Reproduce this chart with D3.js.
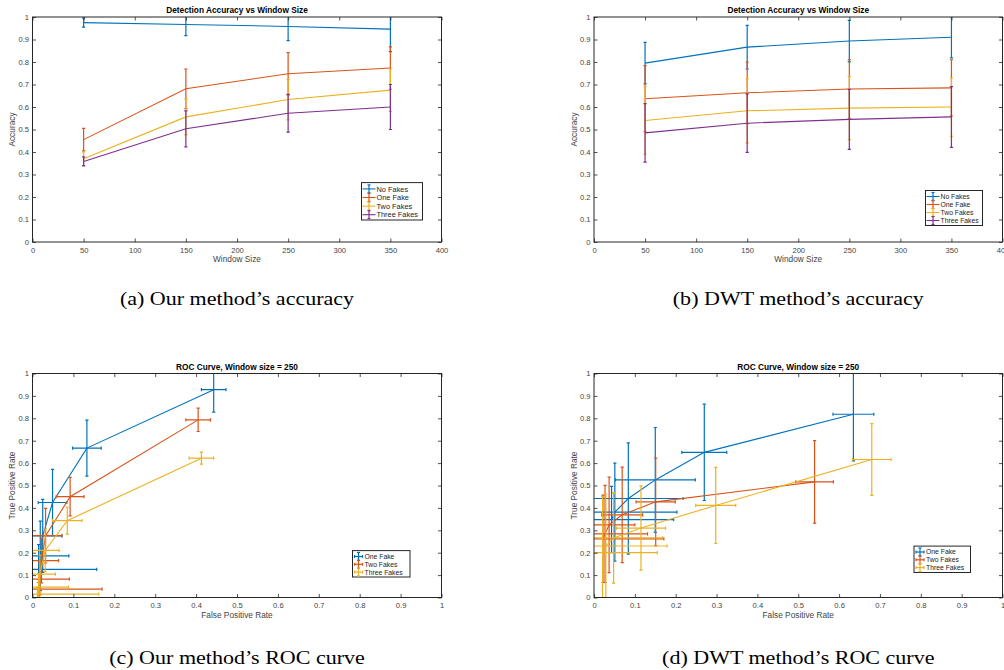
<!DOCTYPE html>
<html>
<head>
<meta charset="utf-8">
<script src="https://cdn.jsdelivr.net/npm/d3@7"></script>
<style>
  body { margin: 0; background: #fff; }
  svg { display: block; }
</style>
</head>
<body>
<svg id="fig" width="1004" height="670"></svg>
<script>
// ---- accuracy data (window sizes) ----
const windowSizes = [50, 150, 250, 350];
const accNames = ['No Fakes', 'One Fake', 'Two Fakes', 'Three Fakes'];
const rocNames = ['One Fake', 'Two Fakes', 'Three Fakes'];
const colors = ['#0072BD', '#D95319', '#EDB120', '#7E2F8E'];

// (a) our method
const ourNoFakes = [0.975, 0.967, 0.958, 0.946];
const ourNoFakesErr = [0.02, 0.05, 0.063, 0.1];
const ourOneFake = [0.455, 0.681, 0.748, 0.773];
const ourOneFakeErr = [0.05, 0.088, 0.094, 0.094];
const ourTwoFakes = [0.37, 0.556, 0.633, 0.675];
const ourTwoFakesErr = [0.03, 0.08, 0.09, 0.094];
const ourThreeFakes = [0.358, 0.503, 0.572, 0.6];
const ourThreeFakesErr = [0.02, 0.08, 0.084, 0.1];

// (b) DWT method
const dwtNoFakes = [0.795, 0.866, 0.893, 0.91];
const dwtNoFakesErr = [0.092, 0.097, 0.092, 0.092];
const dwtOneFake = [0.637, 0.663, 0.68, 0.685];
const dwtOneFakeErr = [0.147, 0.137, 0.13, 0.125];
const dwtTwoFakes = [0.54, 0.583, 0.595, 0.6];
const dwtTwoFakesErr = [0.15, 0.142, 0.14, 0.13];
const dwtThreeFakes = [0.485, 0.528, 0.545, 0.556];
const dwtThreeFakesErr = [0.13, 0.13, 0.133, 0.135];

// (c) our ROC, window size 250
const ourOneFpr = [0.443, 0.133, 0.049, 0.025, 0.019, 0.015];
const ourOneTpr = [0.928, 0.667, 0.424, 0.275, 0.186, 0.126];
const ourOneFprErr = [0.03, 0.035, 0.035, 0.047, 0.07, 0.142];
const ourOneTprErr = [0.1, 0.125, 0.148, 0.163, 0.155, 0.11];
const ourTwoFpr = [0.405, 0.092, 0.032, 0.022, 0.018, 0.015];
const ourTwoTpr = [0.793, 0.45, 0.276, 0.165, 0.082, 0.037];
const ourTwoFprErr = [0.03, 0.034, 0.04, 0.042, 0.072, 0.155];
const ourTwoTprErr = [0.052, 0.086, 0.122, 0.1, 0.07, 0.03];
const ourThreeFpr = [0.413, 0.085, 0.031, 0.018, 0.015, 0.012];
const ourThreeTpr = [0.622, 0.343, 0.21, 0.104, 0.046, 0.015];
const ourThreeFprErr = [0.03, 0.036, 0.034, 0.038, 0.073, 0.15];
const ourThreeTprErr = [0.027, 0.06, 0.095, 0.085, 0.06, 0.03];

// (d) DWT ROC, window size 250
const dwtOneFpr = [0.635, 0.27, 0.15, 0.084, 0.051, 0.043];
const dwtOneTpr = [0.818, 0.648, 0.525, 0.442, 0.381, 0.348];
const dwtOneFprErr = [0.05, 0.055, 0.098, 0.134, 0.152, 0.152];
const dwtOneTprErr = [0.208, 0.215, 0.234, 0.248, 0.219, 0.148];
const dwtTwoFpr = [0.54, 0.151, 0.069, 0.037, 0.027, 0.022];
const dwtTwoTpr = [0.516, 0.427, 0.369, 0.324, 0.284, 0.262];
const dwtTwoFprErr = [0.046, 0.048, 0.05, 0.063, 0.104, 0.149];
const dwtTwoTprErr = [0.184, 0.195, 0.213, 0.213, 0.217, 0.195];
const dwtThreeFpr = [0.68, 0.298, 0.115, 0.048, 0.029, 0.021];
const dwtThreeTpr = [0.616, 0.411, 0.31, 0.266, 0.23, 0.2];
const dwtThreeFprErr = [0.047, 0.049, 0.06, 0.12, 0.15, 0.134];
const dwtThreeTprErr = [0.16, 0.17, 0.188, 0.202, 0.232, 0.25];

const accTicks = d3.range(0, 401, 50);
const unitTicks = d3.range(0, 11).map(d => d / 10);

const svg = d3.select('#fig');
const sans = '"Liberation Sans", Arial, Helvetica, sans-serif';
const axisColor = '#262626';
const labelColor = '#444';

// draw one MATLAB-like axes box, returns scales and a clipped group
function makePanel(box, xDomain, xTicks, title, xLabel, yLabel, id) {
  const x = d3.scaleLinear().domain(xDomain).range([box.left, box.right]);
  const y = d3.scaleLinear().domain([0, 1]).range([box.bottom, box.top]);
  const g = svg.append('g');

  svg.append('clipPath').attr('id', id)
    .append('rect')
    .attr('x', box.left).attr('y', box.top)
    .attr('width', box.right - box.left).attr('height', box.bottom - box.top);

  const plot = g.append('g').attr('clip-path', `url(#${id})`);
  const fmt = d => String(+d.toFixed(1));

  const styleAxis = sel => {
    sel.select('.domain').remove();
    sel.selectAll('line').attr('stroke', axisColor).attr('stroke-width', 0.8);
    sel.selectAll('text').attr('fill', labelColor)
      .attr('font-family', sans).attr('font-size', 7.6);
  };

  g.append('g').attr('transform', `translate(0,${box.bottom})`)
    .call(d3.axisBottom(x).tickValues(xTicks).tickSize(-3.5).tickPadding(5.5).tickFormat(fmt))
    .call(styleAxis);
  g.append('g').attr('transform', `translate(0,${box.top})`)
    .call(d3.axisTop(x).tickValues(xTicks).tickSize(-3.5).tickFormat(''))
    .call(styleAxis);
  g.append('g').attr('transform', `translate(${box.left},0)`)
    .call(d3.axisLeft(y).tickValues(unitTicks).tickSize(-3.5).tickPadding(3.5).tickFormat(fmt))
    .call(styleAxis);
  g.append('g').attr('transform', `translate(${box.right},0)`)
    .call(d3.axisRight(y).tickValues(unitTicks).tickSize(-3.5).tickFormat(''))
    .call(styleAxis);

  g.append('rect')
    .attr('x', box.left).attr('y', box.top)
    .attr('width', box.right - box.left).attr('height', box.bottom - box.top)
    .attr('fill', 'none').attr('stroke', axisColor).attr('stroke-width', 1);

  g.append('text')
    .attr('x', (box.left + box.right) / 2).attr('y', box.top - 3.6)
    .attr('text-anchor', 'middle').attr('font-family', sans)
    .attr('font-size', 8.3).attr('font-weight', 'bold').attr('fill', '#000')
    .text(title);
  g.append('text')
    .attr('x', (box.left + box.right) / 2).attr('y', box.bottom + 20)
    .attr('text-anchor', 'middle').attr('font-family', sans)
    .attr('font-size', 8.3).attr('fill', labelColor)
    .text(xLabel);
  g.append('text')
    .attr('transform', `translate(${box.left - 17.5},${(box.top + box.bottom) / 2}) rotate(-90)`)
    .attr('text-anchor', 'middle').attr('font-family', sans)
    .attr('font-size', 8.3).attr('fill', labelColor)
    .text(yLabel);

  return { x, y, g, plot, box };
}

function vBar(sel, px, py0, py1, color, cap) {
  sel.append('line').attr('x1', px).attr('x2', px).attr('y1', py0).attr('y2', py1)
    .attr('stroke', color).attr('stroke-width', 1.2);
  [py0, py1].forEach(py => sel.append('line')
    .attr('x1', px - cap).attr('x2', px + cap).attr('y1', py).attr('y2', py)
    .attr('stroke', color).attr('stroke-width', 1.2));
}
function hBar(sel, py, px0, px1, color, cap) {
  sel.append('line').attr('x1', px0).attr('x2', px1).attr('y1', py).attr('y2', py)
    .attr('stroke', color).attr('stroke-width', 1.2);
  [px0, px1].forEach(px => sel.append('line')
    .attr('x1', px).attr('x2', px).attr('y1', py - cap).attr('y2', py + cap)
    .attr('stroke', color).attr('stroke-width', 1.2));
}

function accuracyPanel(p, series, legendFont) {
  series.forEach((s, i) => {
    const pts = windowSizes.map((w, j) => ({ w, v: s.vals[j], e: s.errs[j] }));
    pts.forEach(d => vBar(p.plot, p.x(d.w), p.y(d.v - d.e), p.y(d.v + d.e), colors[i], 1.6));
    p.plot.append('path').datum(pts)
      .attr('d', d3.line().x(d => p.x(d.w)).y(d => p.y(d.v)))
      .attr('fill', 'none').attr('stroke', colors[i]).attr('stroke-width', 1.1);
  });
  legend(p, accNames, legendFont, false);
}

function rocPanel(p, series, legendFont) {
  series.forEach((s, i) => {
    const pts = s.fpr.map((f, j) => ({ f, t: s.tpr[j], fe: s.fprErr[j], te: s.tprErr[j] }));
    pts.forEach(d => {
      vBar(p.plot, p.x(d.f), p.y(d.t - d.te), p.y(d.t + d.te), colors[i], 1.6);
      hBar(p.plot, p.y(d.t), p.x(d.f - d.fe), p.x(d.f + d.fe), colors[i], 1.6);
    });
    p.plot.append('path').datum(pts)
      .attr('d', d3.line().x(d => p.x(d.f)).y(d => p.y(d.t)))
      .attr('fill', 'none').attr('stroke', colors[i]).attr('stroke-width', 1.1);
  });
  legend(p, rocNames, legendFont, true);
}

function legend(p, names, opt, cross) {
  const lg = p.g.append('g');
  const w = opt.width, rowH = opt.rowH, h = names.length * rowH + 3;
  const lx = p.box.right - opt.right - w, ly = p.box.bottom - opt.bottom - h;
  lg.append('rect').attr('x', lx).attr('y', ly).attr('width', w).attr('height', h)
    .attr('fill', '#fff').attr('stroke', axisColor).attr('stroke-width', 1);
  names.forEach((n, i) => {
    const cy = ly + 2 + rowH * (i + 0.5);
    const sx = lx + 1, sw = cross ? 10 : 13;
    if (cross) {
      vBar(lg, sx + sw / 2, cy - 4, cy + 4, colors[i], 1.5);
      hBar(lg, cy, sx + 1, sx + sw - 1, colors[i], 1.5);
    } else {
      lg.append('line').attr('x1', sx).attr('x2', sx + sw).attr('y1', cy).attr('y2', cy)
        .attr('stroke', colors[i]).attr('stroke-width', 1.1);
      vBar(lg, sx + sw / 2, cy - 4, cy + 4, colors[i], 1.5);
    }
    lg.append('text').attr('x', sx + sw + 1).attr('y', cy + opt.size * 0.36)
      .attr('font-family', sans).attr('font-size', opt.size).attr('fill', '#222')
      .text(n);
  });
}

// panels
const boxA = { left: 32.5, right: 441.5, top: 17, bottom: 242 };
const boxB = { left: 594, right: 1002.5, top: 17, bottom: 242 };
const boxC = { left: 32.5, right: 441.5, top: 373.5, bottom: 597.5 };
const boxD = { left: 594, right: 1002.5, top: 373.5, bottom: 597.5 };

const pA = makePanel(boxA, [0, 400], accTicks, 'Detection Accuracy vs Window Size', 'Window Size', 'Accuracy', 'clipA');
accuracyPanel(pA, [
  { vals: ourNoFakes, errs: ourNoFakesErr },
  { vals: ourOneFake, errs: ourOneFakeErr },
  { vals: ourTwoFakes, errs: ourTwoFakesErr },
  { vals: ourThreeFakes, errs: ourThreeFakesErr }
], { width: 61, rowH: 8.6, right: 19, bottom: 22, size: 7.4 });

const pB = makePanel(boxB, [0, 400], accTicks, 'Detection Accuracy vs Window Size', 'Window Size', 'Accuracy', 'clipB');
accuracyPanel(pB, [
  { vals: dwtNoFakes, errs: dwtNoFakesErr },
  { vals: dwtOneFake, errs: dwtOneFakeErr },
  { vals: dwtTwoFakes, errs: dwtTwoFakesErr },
  { vals: dwtThreeFakes, errs: dwtThreeFakesErr }
], { width: 57, rowH: 8, right: 20, bottom: 16.5, size: 6.8 });

const pC = makePanel(boxC, [0, 1], unitTicks, 'ROC Curve, Window size = 250', 'False Positive Rate', 'True Positive Rate', 'clipC');
rocPanel(pC, [
  { fpr: ourOneFpr, tpr: ourOneTpr, fprErr: ourOneFprErr, tprErr: ourOneTprErr },
  { fpr: ourTwoFpr, tpr: ourTwoTpr, fprErr: ourTwoFprErr, tprErr: ourTwoTprErr },
  { fpr: ourThreeFpr, tpr: ourThreeTpr, fprErr: ourThreeFprErr, tprErr: ourThreeTprErr }
], { width: 57.5, rowH: 7.8, right: 31.5, bottom: 20.5, size: 6.8 });

const pD = makePanel(boxD, [0, 1], unitTicks, 'ROC Curve, Window size = 250', 'False Positive Rate', 'True Positive Rate', 'clipD');
rocPanel(pD, [
  { fpr: dwtOneFpr, tpr: dwtOneTpr, fprErr: dwtOneFprErr, tprErr: dwtOneTprErr },
  { fpr: dwtTwoFpr, tpr: dwtTwoTpr, fprErr: dwtTwoFprErr, tprErr: dwtTwoTprErr },
  { fpr: dwtThreeFpr, tpr: dwtThreeTpr, fprErr: dwtThreeFprErr, tprErr: dwtThreeTprErr }
], { width: 56.5, rowH: 7.8, right: 32, bottom: 25, size: 6.8 });

// sub-figure captions (serif, slightly wide as in the source), centred on each panel
const captions = [
  { text: '(a) Our method\u2019s accuracy', box: boxA, y: 305 },
  { text: '(b) DWT method\u2019s accuracy', box: boxB, y: 305 },
  { text: '(c) Our method\u2019s ROC curve', box: boxC, y: 664 },
  { text: '(d) DWT method\u2019s ROC curve', box: boxD, y: 664 }
];
captions.forEach(c => {
  const cx = (c.box.left + c.box.right) / 2;
  svg.append('g').attr('transform', `translate(${cx},${c.y}) scale(1.13,1)`)
    .append('text').attr('text-anchor', 'middle')
    .attr('font-family', '"Liberation Serif", "Times New Roman", serif')
    .attr('font-size', 19.5).attr('fill', '#000')
    .text(c.text);
});
</script>
</body>
</html>
